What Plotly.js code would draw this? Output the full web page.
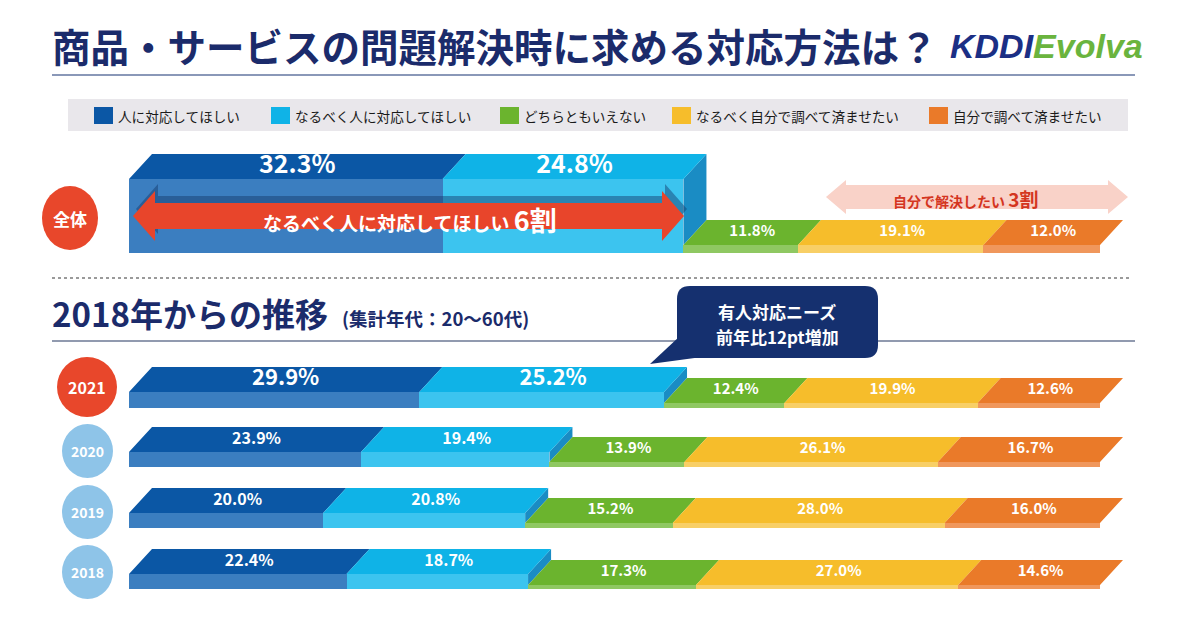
<!DOCTYPE html>
<html><head><meta charset="utf-8">
<script src="https://cdn.plot.ly/plotly-3.0.1.min.js"></script>
<style>html,body{margin:0;padding:0;background:#fff}#chart{width:1200px;height:630px}</style>
</head><body><div id="chart"></div>
<script>
// ---- data ----
const categories = ['全体', '2021', '2020', '2019', '2018'];
const seriesNames = ['人に対応してほしい', 'なるべく人に対応してほしい', 'どちらともいえない', 'なるべく自分で調べて済ませたい', '自分で調べて済ませたい'];
const wantPerson   = [32.3, 29.9, 23.9, 20.0, 22.4];
const ratherPerson = [24.8, 25.2, 19.4, 20.8, 18.7];
const neither      = [11.8, 12.4, 13.9, 15.2, 17.3];
const ratherSelf   = [19.1, 19.9, 26.1, 28.0, 27.0];
const wantSelf     = [12.0, 12.6, 16.7, 16.0, 14.6];
const series = [wantPerson, ratherPerson, neither, ratherSelf, wantSelf];

// ---- geometry / style ----
const W = 1200, H = 630;
const X0 = 129, X1 = 1100;
const k = (X1 - X0) / 100;
const slant = 23 / k;
const FACE = 25;
const rowTopHigh = [154, 367, 427, 488, 549];
const rowTopLow  = [220, 378, 437, 498, 560];
const rowBottom  = [253, 408, 467, 528, 589];
const topColors   = ['#0b57a5', '#0fb3e7', '#6bb42e', '#f6bd2b', '#ea7a29'];
const frontColors = ['#3b7ec0', '#3cc4ef', '#8fc862', '#f8cf66', '#f0975c'];
const sideColor = '#1a8cc4';
const FONT = "'Noto Sans CJK JP', 'Noto Sans', sans-serif";
const NAVY = '#1b2b6b';

const px = x => x / W;
const py = y => 1 - y / H;
const poly = pts => 'M' + pts.map(p => px(p[0]).toFixed(5) + ',' + py(p[1]).toFixed(5)).join('L') + 'Z';

// cumulative starts
const starts = series.map((s, i) => categories.map((c, r) => {
  let a = 0; for (let j = 0; j < i; j++) a += series[j][r]; return a;
}));

const traces = [];
// front faces (bars)
series.forEach((vals, i) => {
  const high = i < 2;
  const tops = high ? rowTopHigh : rowTopLow;
  const fb = tops.map(t => t + FACE);
  traces.push({
    type: 'bar', orientation: 'h', name: seriesNames[i],
    x: vals, base: starts[i],
    y: fb.map((f, r) => (f + rowBottom[r]) / 2),
    width: fb.map((f, r) => rowBottom[r] - f),
    marker: { color: frontColors[i], line: { width: 0 } },
    hoverinfo: 'skip', showlegend: false
  });
});
// side face at end of raised block
(function () {
  const xs = [], ys = [];
  categories.forEach((c, r) => {
    const x1 = starts[1][r] + ratherPerson[r];
    const tH = rowTopHigh[r], tL = rowTopLow[r];
    xs.push(x1, x1 + slant, x1 + slant, x1, null);
    ys.push(tH + FACE, tH, tL, tL + FACE, null);
  });
  traces.push({ type: 'scatter', mode: 'lines', x: xs, y: ys, fill: 'toself', fillcolor: sideColor,
    line: { width: 0 }, hoverinfo: 'skip', showlegend: false });
})();
// top faces
series.forEach((vals, i) => {
  const tops = i < 2 ? rowTopHigh : rowTopLow;
  const xs = [], ys = [];
  categories.forEach((c, r) => {
    const a = starts[i][r], b = a + vals[r], t = tops[r];
    xs.push(a, a + slant, b + slant, b, null);
    ys.push(t + FACE, t, t, t + FACE, null);
  });
  traces.push({ type: 'scatter', mode: 'lines', x: xs, y: ys, fill: 'toself', fillcolor: topColors[i],
    line: { width: 0 }, hoverinfo: 'skip', showlegend: false });
});
// labels
(function () {
  const xs = [], ys = [], tx = [], sz = [];
  const highSize = [25, 22, 16, 16, 16];
  series.forEach((vals, i) => {
    const tops = i < 2 ? rowTopHigh : rowTopLow;
    categories.forEach((c, r) => {
      xs.push(starts[i][r] + vals[r] / 2 + slant / 2);
      ys.push(tops[r] + FACE / 2);
      tx.push('<b>' + vals[r].toFixed(1) + '%</b>');
      sz.push(i < 2 ? highSize[r] : 15);
    });
  });
  traces.push({ type: 'scatter', mode: 'text', x: xs, y: ys, text: tx,
    textfont: { color: '#ffffff', size: sz, family: FONT }, textposition: 'middle center',
    hoverinfo: 'skip', showlegend: false, cliponaxis: false });
})();

// ---- decorations ----
const shapes = [];
const annotations = [];
function ann(x, y, text, size, color, xanchor, extra) {
  annotations.push(Object.assign({ xref: 'paper', yref: 'paper', x: px(x), y: py(y), text: text,
    showarrow: false, xanchor: xanchor || 'center', yanchor: 'middle',
    font: { family: FONT, size: size, color: color } }, extra || {}));
}
function arrowPts(xl, xr, yc, hl, hh, sh) {
  return [[xl, yc], [xl + hl, yc - hh], [xl + hl, yc - sh], [xr - hl, yc - sh], [xr - hl, yc - hh], [xr, yc],
          [xr - hl, yc + hh], [xr - hl, yc + sh], [xl + hl, yc + sh], [xl + hl, yc + hh]];
}

// title
ann(50, 45, '<b>商品・サービスの問題解決時に求める対応方法は？</b>', 38.5, NAVY, 'left');
ann(948, 46, '<i><b><span style="color:#1b2f85">KDDI</span><span style="color:#6ab43e">Evolva</span></b></i>', 34, NAVY, 'left',
  { font: { family: "'Liberation Sans', Arial, sans-serif", size: 34, color: NAVY } });
shapes.push({ type: 'line', xref: 'paper', yref: 'paper', x0: px(52), x1: px(1135), y0: py(75), y1: py(75),
  line: { color: '#8a98b8', width: 2 } });

// legend
shapes.push({ type: 'rect', xref: 'paper', yref: 'paper', x0: px(68), x1: px(1128), y0: py(99), y1: py(131),
  fillcolor: '#e9e7eb', line: { width: 0 } });
const legendTextX = [118, 295, 524, 696, 953];
seriesNames.forEach((n, i) => {
  const tx = legendTextX[i];
  shapes.push({ type: 'rect', xref: 'paper', yref: 'paper', x0: px(tx - 24), x1: px(tx - 5), y0: py(107), y1: py(124),
    fillcolor: topColors[i], line: { width: 0 } });
  ann(tx - 2, 116, n, 13.6, '#1a1a1a', 'left');
});

// 全体 circle
shapes.push({ type: 'circle', xref: 'paper', yref: 'paper', x0: px(42), x1: px(98), y0: py(186), y1: py(250),
  fillcolor: '#e8472b', line: { width: 0 } });
ann(70, 218, '<b>全体</b>', 17, '#ffffff');

// red arrow with shadow
shapes.push({ type: 'path', xref: 'paper', yref: 'paper', path: poly(arrowPts(136, 687, 209, 22, 25, 13)),
  fillcolor: 'rgba(20,55,105,0.45)', line: { width: 0 } });
shapes.push({ type: 'path', xref: 'paper', yref: 'paper', path: poly(arrowPts(133, 684, 216, 22, 25, 13)),
  fillcolor: '#e8452b', line: { width: 0 } });
ann(410, 219, '<b>なるべく人に対応してほしい <span style="font-size:27px">6割</span></b>', 19, '#ffffff');

// pink arrow
shapes.push({ type: 'path', xref: 'paper', yref: 'paper', path: poly(arrowPts(826, 1128, 197, 20, 17, 12)),
  fillcolor: '#f9d2c8', line: { width: 0 } });
ann(965, 198, '<b>自分で解決したい <span style="font-size:19px">3割</span></b>', 14, '#d4351f');

// dotted separator
shapes.push({ type: 'line', xref: 'paper', yref: 'paper', x0: px(52), x1: px(1132), y0: py(278), y1: py(278),
  line: { color: '#9a9a9a', width: 2, dash: 'dot' } });

// heading
ann(50, 313, '<b>2018年からの推移</b>', 33, NAVY, 'left');
ann(340, 318, '<b>(集計年代：20〜60代)</b>', 18.5, NAVY, 'left');
shapes.push({ type: 'line', xref: 'paper', yref: 'paper', x0: px(52), x1: px(1135), y0: py(341), y1: py(341),
  line: { color: '#6d7895', width: 1.5 } });

// speech bubble
(function () {
  const x0 = 677, x1 = 878, y0 = 286, y1 = 358, r = 13;
  const P = (x, y) => px(x).toFixed(5) + ',' + py(y).toFixed(5);
  const path = 'M' + P(x0 + r, y0) + 'L' + P(x1 - r, y0) + 'Q' + P(x1, y0) + ' ' + P(x1, y0 + r) +
    'L' + P(x1, y1 - r) + 'Q' + P(x1, y1) + ' ' + P(x1 - r, y1) + 'L' + P(x0 + r, y1) +
    'Q' + P(x0, y1) + ' ' + P(x0, y1 - r) + 'L' + P(x0, y0 + r) + 'Q' + P(x0, y0) + ' ' + P(x0 + r, y0) + 'Z';
  shapes.push({ type: 'path', xref: 'paper', yref: 'paper', path: path, fillcolor: '#15306f', line: { width: 0 } });
  shapes.push({ type: 'path', xref: 'paper', yref: 'paper', path: poly([[680, 336], [650, 364], [702, 357]]),
    fillcolor: '#15306f', line: { width: 0 } });
})();
ann(777, 311, '<b>有人対応ニーズ</b>', 17, '#ffffff');
ann(777, 336, '<b>前年比12pt増加</b>', 17, '#ffffff');

// year circles
const yearCircles = [
  { c: '#e8472b', x0: 57, x1: 117, y0: 357, y1: 417, s: 16 },
  { c: '#8ec4e8', x0: 62, x1: 113, y0: 424, y1: 478, s: 14 },
  { c: '#8ec4e8', x0: 62, x1: 113, y0: 485, y1: 539, s: 14 },
  { c: '#8ec4e8', x0: 62, x1: 113, y0: 545, y1: 599, s: 14 }
];
yearCircles.forEach((yc, j) => {
  shapes.push({ type: 'circle', xref: 'paper', yref: 'paper', x0: px(yc.x0), x1: px(yc.x1), y0: py(yc.y0), y1: py(yc.y1),
    fillcolor: yc.c, line: { width: 0 } });
  ann((yc.x0 + yc.x1) / 2, (yc.y0 + yc.y1) / 2, '<b>' + categories[j + 1] + '</b>', yc.s, '#ffffff');
});

const layout = {
  width: W, height: H,
  margin: { l: 0, r: 0, t: 0, b: 0, pad: 0 },
  paper_bgcolor: '#ffffff', plot_bgcolor: 'rgba(0,0,0,0)',
  xaxis: { range: [-X0 / k, (W - X0) / k], domain: [0, 1], visible: false, fixedrange: true },
  yaxis: { range: [H, 0], domain: [0, 1], visible: false, fixedrange: true },
  barmode: 'overlay', bargap: 0, showlegend: false,
  font: { family: FONT },
  shapes: shapes, annotations: annotations
};
Plotly.newPlot('chart', traces, layout, { staticPlot: true, displayModeBar: false });
</script></body></html>
